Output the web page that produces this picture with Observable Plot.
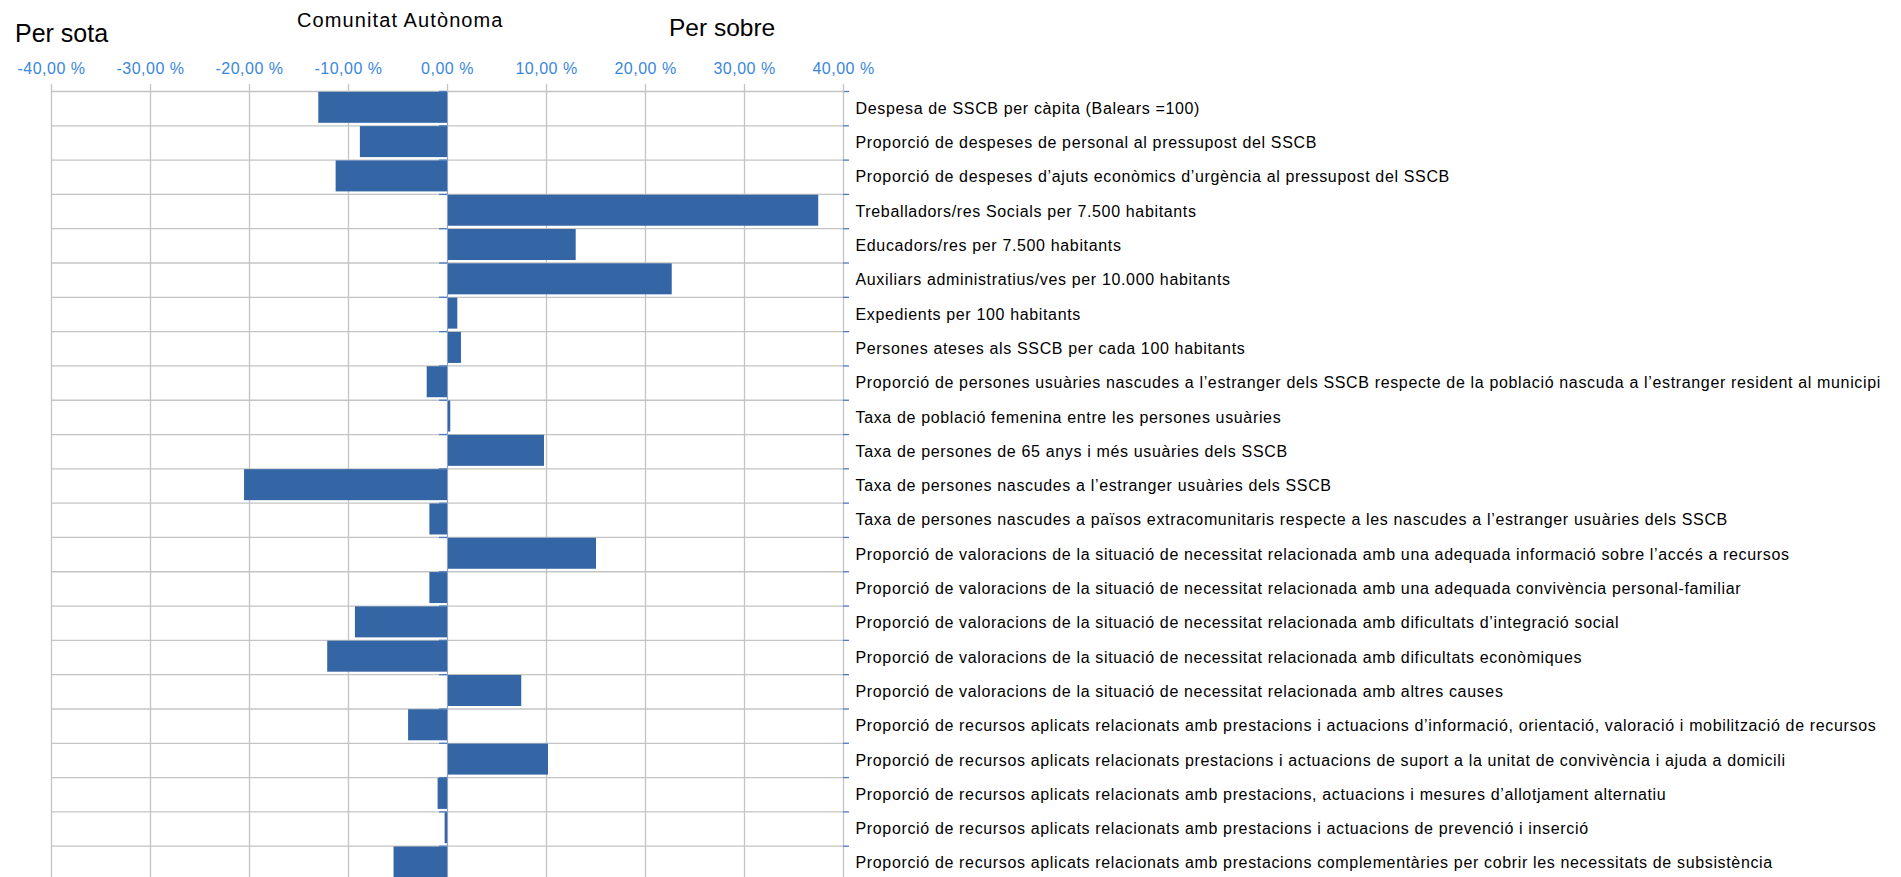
<!DOCTYPE html>
<html>
<head>
<meta charset="utf-8">
<script src="https://cdn.jsdelivr.net/npm/d3@7"></script>
<script src="https://cdn.jsdelivr.net/npm/@observablehq/plot@0.6"></script>
<style>
  html, body { margin: 0; padding: 0; background: #fff; overflow: hidden; }
  #wrap { position: relative; width: 1901px; height: 877px; overflow: hidden; }
  .hdr { position: absolute; font-family: "Liberation Sans", Arial, sans-serif; color: #000; white-space: nowrap; line-height: 1; }
  #chart svg { display: block; }
  #chart g[aria-label="text"] text { letter-spacing: 0.65px; }
  #chart g[aria-label="x-axis tick label"] text { letter-spacing: 0.5px; }
</style>
</head>
<body>
<div id="wrap">
  <div id="chart"></div>
  <div class="hdr" style="left:15px; top:20.5px; font-size:25px;">Per sota</div>
  <div class="hdr" style="left:297px; top:9.8px; font-size:20px; letter-spacing:1.1px;">Comunitat Autònoma</div>
  <div class="hdr" style="left:669px; top:15.5px; font-size:24.5px;">Per sobre</div>
</div>
<script>
const labels = [
  "Despesa de SSCB per càpita (Balears =100)",
  "Proporció de despeses de personal al pressupost del SSCB",
  "Proporció de despeses d’ajuts econòmics d’urgència al pressupost del SSCB",
  "Treballadors/res Socials per 7.500 habitants",
  "Educadors/res per 7.500 habitants",
  "Auxiliars administratius/ves per 10.000 habitants",
  "Expedients per 100 habitants",
  "Persones ateses als SSCB per cada 100 habitants",
  "Proporció de persones usuàries nascudes a l’estranger dels SSCB respecte de la població nascuda a l’estranger resident al municipi",
  "Taxa de població femenina entre les persones usuàries",
  "Taxa de persones de 65 anys i més usuàries dels SSCB",
  "Taxa de persones nascudes a l’estranger usuàries dels SSCB",
  "Taxa de persones nascudes a països extracomunitaris respecte a les nascudes a l’estranger usuàries dels SSCB",
  "Proporció de valoracions de la situació de necessitat relacionada amb una adequada informació sobre l’accés a recursos",
  "Proporció de valoracions de la situació de necessitat relacionada amb una adequada convivència personal-familiar",
  "Proporció de valoracions de la situació de necessitat relacionada amb dificultats d’integració social",
  "Proporció de valoracions de la situació de necessitat relacionada amb dificultats econòmiques",
  "Proporció de valoracions de la situació de necessitat relacionada amb altres causes",
  "Proporció de recursos aplicats relacionats amb prestacions i actuacions d’informació, orientació, valoració i mobilització de recursos",
  "Proporció de recursos aplicats relacionats prestacions i actuacions de suport a la unitat de convivència i ajuda a domicili",
  "Proporció de recursos aplicats relacionats amb prestacions, actuacions i mesures d’allotjament alternatiu",
  "Proporció de recursos aplicats relacionats amb prestacions i actuacions de prevenció i inserció",
  "Proporció de recursos aplicats relacionats amb prestacions complementàries per cobrir les necessitats de subsistència"
];

// Percent deviation from the Comunitat Autònoma
const values = [
  -13.0, -8.8, -11.25, 37.5, 13.0, 22.7, 1.04, 1.41, -2.05, 0.33, 9.8, -20.5,
  -1.78, 15.05, -1.78, -9.3, -12.1, 7.5, -3.93, 10.2, -0.95, -0.24, -5.4
];

const xTicks = [-40, -30, -20, -10, 0, 10, 20, 30, 40];

const rows = labels.map((label, i) => ({label, value: values[i], i}));
const bounds = d3.range(labels.length + 1);

const gridColor = "#c4c4c4";
const barColor = "#3465a4";
const tickBlue = "#4a7cc0";
const labelBlue = "#3a87dd";

const chart = Plot.plot({
  width: 1901,
  height: 880,
  marginTop: 91,
  marginBottom: 0,
  marginLeft: 51,
  marginRight: 1058,
  style: {fontFamily: "'Liberation Sans', Arial, sans-serif", background: "white", overflow: "visible"},
  x: {domain: [-40, 40], axis: null},
  y: {domain: [0, labels.length], reverse: true, axis: null},
  marks: [
    Plot.ruleX(xTicks, {y1: 0, y2: labels.length, stroke: gridColor, strokeWidth: 1.3}),
    Plot.ruleY(bounds, {x1: -40, x2: 40, stroke: gridColor, strokeWidth: 1.3}),
    Plot.rect(rows, {x1: 0, x2: "value", y1: "i", y2: d => d.i + 1, fill: barColor, insetTop: 0.8, insetBottom: 2.5}),
    Plot.ruleX([0], {y1: 0, y2: labels.length, stroke: "#8ba3c6", strokeWidth: 1}),
    Plot.ruleY(bounds, {x1: 0, x2: 0, insetLeft: -8, stroke: tickBlue, strokeWidth: 1.3}),
    Plot.ruleY(bounds, {x1: 40, x2: 40, insetRight: -6, stroke: tickBlue, strokeWidth: 1.3}),
    Plot.axisX({
      anchor: "top",
      ticks: xTicks,
      tickSize: 8,
      tickPadding: 10,
      stroke: gridColor,
      strokeWidth: 1.3,
      fill: labelBlue,
      fontSize: 16,
      tickFormat: d => d.toFixed(2).replace(".", ",") + " %",
      label: null
    }),
    Plot.text(rows, {
      x: 40,
      y: d => d.i + 0.5,
      text: "label",
      textAnchor: "start",
      dx: 12,
      fontSize: 16,
      fill: "#000"
    })
  ]
});

document.getElementById("chart").appendChild(chart);
</script>
</body>
</html>
